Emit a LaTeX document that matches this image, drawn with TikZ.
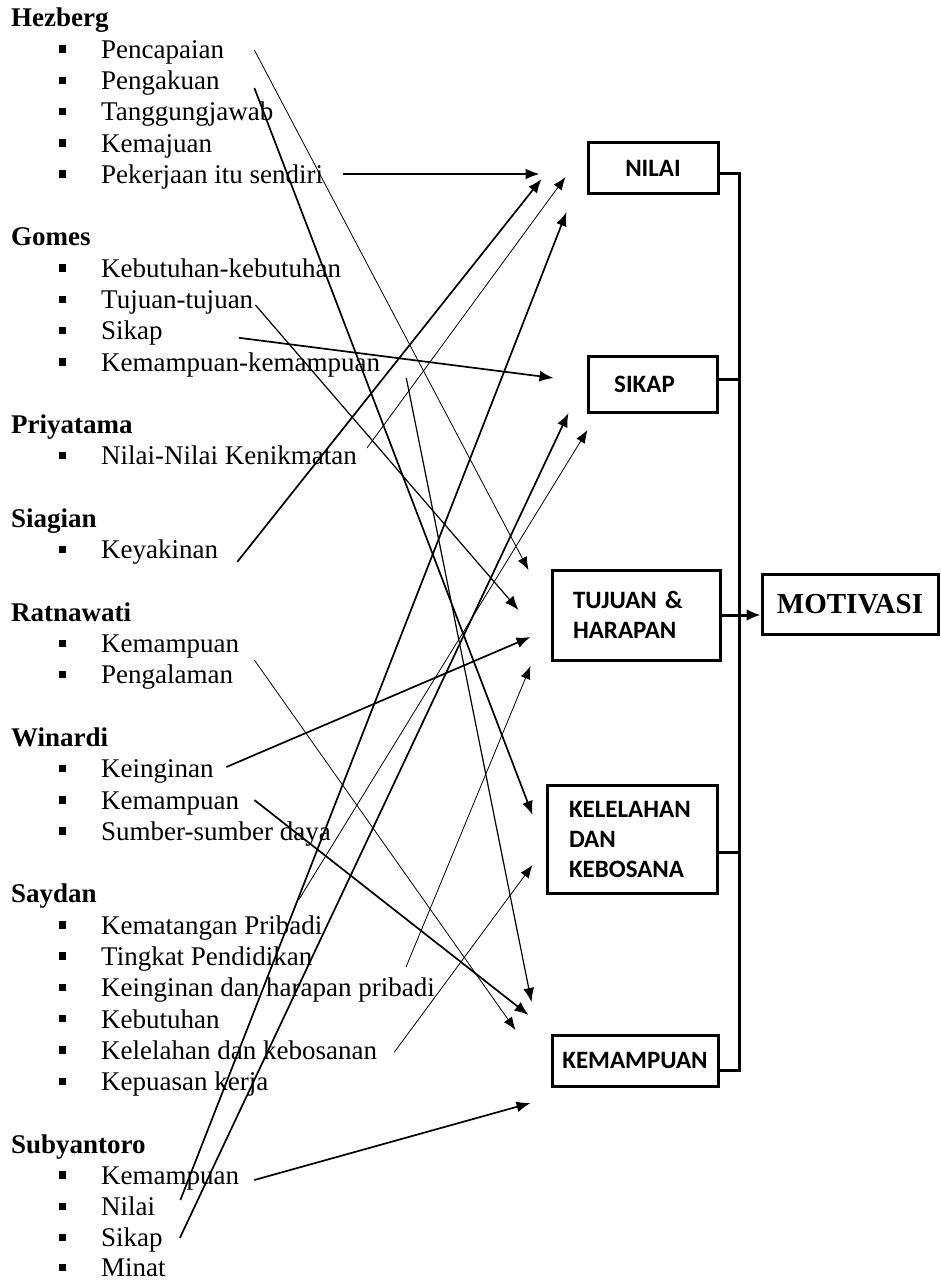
\documentclass[tikz,border=0pt]{standalone}
\usepackage{fontspec}
\setmainfont{Liberation Serif}
\newfontfamily\kotakfam{Carlito}
\usetikzlibrary{arrows.meta,calc}
\newcommand{\butirfont}{\fontsize{27}{31}\selectfont}
\newcommand{\kotakfont}{\kotakfam\bfseries\fontsize{25}{30}\selectfont}

\tikzset{
  item/.style={anchor=base west, inner sep=0pt, font=\butirfont},
  judul/.style={item, font=\butirfont\bfseries},
  kotak/.style={draw, line width=3pt, inner sep=0pt, font=\kotakfont},
  tebal/.style={line width=1.7pt, -{Latex[length=14pt,width=11pt]}},
  sedang/.style={line width=1.2pt, -{Latex[length=14pt,width=11pt]}},
  tipis/.style={line width=0.8pt, -{Latex[length=13pt,width=10pt]}},
  bus/.style={line width=3pt}
}

\begin{document}
\begin{tikzpicture}[x=1pt,y=-1pt]
	\useasboundingbox (0,0) rectangle (940,1281);
	% daftar kiri
	\node[judul] (hez) at (11,27) {Hezberg};
	\node[item] (pen) at (101,58.3) {Pencapaian};
	\node[item] (pgk) at (101,89.6) {Pengakuan};
	\node[item] (tgj) at (101,120.8) {Tanggungjawab};
	\node[item] (kmj) at (101,152.1) {Kemajuan};
	\node[item] (pek) at (101,183.4) {Pekerjaan itu sendiri};
	\node[judul] (gom) at (11,246) {Gomes};
	\node[item] (keb) at (101,277.2) {Kebutuhan-kebutuhan};
	\node[item] (tuj) at (101,308.5) {Tujuan-tujuan};
	\node[item] (gsik) at (101,339.8) {Sikap};
	\node[item] (kk) at (101,371.1) {Kemampuan-kemampuan};
	\node[judul] (pri) at (11,433.6) {Priyatama};
	\node[item] (nnk) at (101,464.9) {Nilai-Nilai Kenikmatan};
	\node[judul] (sia) at (11,527.5) {Siagian};
	\node[item] (yak) at (101,558.8) {Keyakinan};
	\node[judul] (rat) at (11,621.3) {Ratnawati};
	\node[item] (rkem) at (101,652.6) {Kemampuan};
	\node[item] (pgl) at (101,683.9) {Pengalaman};
	\node[judul] (win) at (11,746.4) {Winardi};
	\node[item] (wkei) at (101,777.7) {Keinginan};
	\node[item] (wkem) at (101,809) {Kemampuan};
	\node[item] (sbr) at (101,840.3) {Sumber-sumber daya};
	\node[judul] (say) at (11,902.8) {Saydan};
	\node[item] (kpb) at (101,934.1) {Kematangan Pribadi};
	\node[item] (tpd) at (101,965.4) {Tingkat Pendidikan};
	\node[item] (khp) at (101,996.7) {Keinginan dan harapan pribadi};
	\node[item] (kbt) at (101,1028) {Kebutuhan};
	\node[item] (kdk) at (101,1059.2) {Kelelahan dan kebosanan};
	\node[item] (kpk) at (101,1090.5) {Kepuasan kerja};
	\node[judul] (sub) at (11,1153.1) {Subyantoro};
	\node[item] (skem) at (101,1184.4) {Kemampuan};
	\node[item] (snil) at (101,1215.6) {Nilai};
	\node[item] (ssik) at (101,1246.9) {Sikap};
	\node[item] (smin) at (101,1276.5) {Minat};
	\foreach \n in {1,2,3,4,5,8,9,10,11,14,17,20,21,24,25,26,29,30,31,32,33,34,37,38,39}
		\fill (59,{27+31.28*\n-13}) rectangle (66,{27+31.28*\n-5.5});
	\fill (59,1263.5) rectangle (66,1271);
	% kotak kanan
	\node[kotak, minimum width=130pt, minimum height=51pt] (nilai) at (653,168.5) {NILAI};
	\node[kotak, minimum width=129pt, minimum height=56pt] (sikap) at (652.5,384) {SIKAP\hspace*{16pt}};
	\node[kotak, text width=126pt, inner xsep=21pt, minimum height=90pt, align=left] (tujuan) at (636,615) {TUJUAN \&\\HARAPAN};
	\node[kotak, text width=126pt, inner xsep=22pt, minimum height=108pt, align=left] (kelelahan) at (632,839) {KELELAHAN\\DAN\\KEBOSANA};
	\node[kotak, minimum width=166pt, minimum height=51pt] (kemampuan) at (635,1060.5) {KEMAMPUAN};
	\node[kotak, font=\fontsize{29}{34}\selectfont\bfseries, minimum width=176pt, minimum height=60pt] (motivasi) at (850,604) {\raisebox{-7pt}{MOTIVASI}};
	% garis ke motivasi
	\draw[bus] ($(nilai.east)+(0,5.5)$) -- ++(20,0) |- ($(kemampuan.east)+(0,9.5)$);
	\draw[bus] ($(sikap.east)+(0,-5)$) -- ++(20.5,0);
	\draw[bus] ($(kelelahan.east)+(0,13)$) -- ++(21,0);
	\draw[bus, -{Latex[length=14pt,width=12pt]}] (tujuan.east) -- (tujuan.east -| motivasi.west);
	% Hezberg
	\draw[tipis] ($(pen.base east)+(30,-8.3)$) -- ($(tujuan.west)+(-22,-45)$);
	\draw[tebal] ($(pgk.base east)+(34.5,-1.6)$) -- ($(kelelahan.west)+(-13,-24)$);
	\draw[tebal] ($(pek.base east)+(20,-9.4)$) -- ($(nilai.west)+(-47,5.5)$);
	% Gomes
	\draw[sedang] ($(tuj.base east)+(2,-3.5)$) -- ($(tujuan.west)+(-32,-5)$);
	\draw[tebal] ($(gsik.base east)+(76,-2)$) -- ($(sikap.west)+(-33,-6)$);
	\draw[sedang] ($(kk.base east)+(26,7)$) -- ($(kemampuan.west)+(-19,-58.5)$);
	% Priyatama, Siagian
	\draw[tipis] ($(nnk.base east)+(10,-17)$) -- ($(nilai.west)+(-21,8.5)$);
	\draw[tebal] ($(yak.base east)+(19,3)$) -- ($(nilai.west)+(-45,10.5)$);
	% Ratnawati
	\draw[tipis] ($(rkem.base east)+(15,7.4)$) -- ($(kemampuan.west)+(-35,-30.5)$);
	% Winardi
	\draw[tebal] ($(wkei.base east)+(12.5,-10.7)$) -- ($(tujuan.west)+(-20,22)$);
	\draw[tebal] ($(wkem.base east)+(15,-9)$) -- ($(kemampuan.west)+(-22,-45.5)$);
	% Saydan
	\draw[tipis] ($(kpb.base east)+(-24,-34)$) -- ($(sikap.west)+(1,46)$);
	\draw[tipis] ($(khp.base east)+(-29,-29.7)$) -- ($(tujuan.west)+(-20,51)$);
	\draw[tipis] ($(kdk.base east)+(17,-7)$) -- ($(kelelahan.west)+(-13,26)$);
	% Subyantoro
	\draw[tebal] ($(skem.base east)+(15,-4.4)$) -- ($(kemampuan.west)+(-20,42.5)$);
	\draw[tebal] ($(snil.base east)+(25,-15.6)$) -- ($(nilai.west)+(-20,43.5)$);
	\draw[tebal] ($(ssik.base east)+(17,-9)$) -- ($(sikap.west)+(-18,29)$);
\end{tikzpicture}
\end{document}
